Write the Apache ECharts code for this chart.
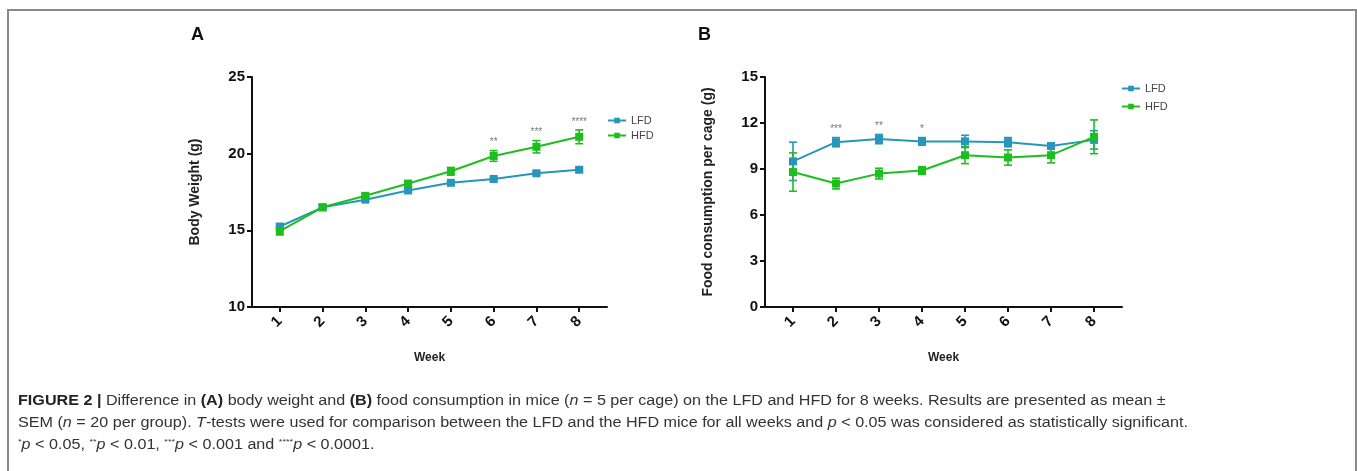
<!DOCTYPE html>
<html>
<head>
<meta charset="utf-8">
<script src="https://cdn.jsdelivr.net/npm/echarts@6/dist/echarts.min.js"></script>
<style>
  html, body { margin:0; padding:0; background:#fff; }
  #wrap { position:relative; width:1357px; height:471px; overflow:hidden; }
  #chart { position:absolute; left:0; top:0; width:1357px; height:471px; }
  #frame { position:absolute; left:7px; top:9px; width:1346px; height:480px;
           border:2px solid #8a8a8a; border-bottom:none; }
  .cap { position:absolute; left:18px; white-space:nowrap; font-family:"Liberation Sans", Arial, sans-serif;
         font-size:14px; color:#333; transform-origin:0 50%; }
  .cap b { color:#222; }
  .cap sup { font-size:8px; vertical-align:5px; }
</style>
</head>
<body>
<div id="wrap">
  <div id="frame"></div>
  <div id="chart"></div>
  <div class="cap" id="cap1" style="top:392px"><b>FIGURE 2 |</b> Difference in <b>(A)</b> body weight and <b>(B)</b> food consumption in mice (<i>n</i> = 5 per cage) on the LFD and HFD for 8 weeks. Results are presented as mean ±</div>
  <div class="cap" id="cap2" style="top:414px">SEM (<i>n</i> = 20 per group). <i>T</i>-tests were used for comparison between the LFD and the HFD mice for all weeks and <i>p</i> &lt; 0.05 was considered as statistically significant.</div>
  <div class="cap" id="cap3" style="top:436px"><sup>*</sup><i>p</i> &lt; 0.05, <sup>**</sup><i>p</i> &lt; 0.01, <sup>***</sup><i>p</i> &lt; 0.001 and <sup>****</sup><i>p</i> &lt; 0.0001.</div>
</div>
<script>
// data (mean and SEM per week)
var weeks = [1, 2, 3, 4, 5, 6, 7, 8];

var lfdWeight    = [15.25, 16.5, 17.0, 17.6, 18.1, 18.35, 18.72, 18.95];
var lfdWeightSem = [0.15, 0.12, 0.12, 0.12, 0.1, 0.1, 0.12, 0.12];
var hfdWeight    = [14.95, 16.5, 17.25, 18.05, 18.85, 19.85, 20.45, 21.1];
var hfdWeightSem = [0.25, 0.15, 0.15, 0.18, 0.25, 0.35, 0.4, 0.45];
var weightStars  = ['', '', '', '', '', '**', '***', '****'];

var lfdFood    = [9.5, 10.75, 10.95, 10.8, 10.8, 10.75, 10.5, 10.9];
var lfdFoodSem = [1.25, 0.3, 0.3, 0.25, 0.4, 0.3, 0.15, 0.6];
var hfdFood    = [8.8, 8.05, 8.7, 8.9, 9.9, 9.75, 9.9, 11.1];
var hfdFoodSem = [1.25, 0.35, 0.35, 0.25, 0.55, 0.5, 0.5, 1.1];
var foodStars  = ['', '***', '**', '*', '', '', '', ''];

var C_LFD = '#2796bb', C_HFD = '#1fbe1f';
var FONT = '"Liberation Sans", Arial, sans-serif';

function pts(vals){ return weeks.map(function(w,i){ return [w, vals[i]]; }); }
function errPts(vals, sem){ return weeks.map(function(w,i){ return [w, vals[i]-sem[i], vals[i]+sem[i]]; }); }
function starPts(vals, sem, stars){
  var out = [];
  weeks.forEach(function(w,i){ if(stars[i]) out.push({value:[w, vals[i]+sem[i]], s:stars[i]}); });
  return out;
}

function errSeries(name, idx, data, color){
  return {
    name:name, type:'custom', xAxisIndex:idx, yAxisIndex:idx, z:3, silent:true,
    data:data,
    renderItem:function(params, api){
      var lo = api.coord([api.value(0), api.value(1)]);
      var hi = api.coord([api.value(0), api.value(2)]);
      var cw = 4;
      var st = {stroke:color, lineWidth:1.6};
      return {type:'group', children:[
        {type:'line', shape:{x1:lo[0], y1:lo[1], x2:hi[0], y2:hi[1]}, style:st},
        {type:'line', shape:{x1:lo[0]-cw, y1:lo[1], x2:lo[0]+cw, y2:lo[1]}, style:st},
        {type:'line', shape:{x1:hi[0]-cw, y1:hi[1], x2:hi[0]+cw, y2:hi[1]}, style:st}
      ]};
    }
  };
}
function lineSeries(name, idx, data, color){
  return {
    name:name, type:'line', xAxisIndex:idx, yAxisIndex:idx, z:4, data:data,
    symbol:'rect', symbolSize:8, showSymbol:true,
    lineStyle:{color:color, width:2}, itemStyle:{color:color}
  };
}
function starSeries(idx, data){
  return {
    name:'stars'+idx, type:'scatter', xAxisIndex:idx, yAxisIndex:idx, data:data,
    symbolSize:0, silent:true,
    label:{show:true, position:'top', distance:3, color:'#555', fontSize:10, fontFamily:FONT,
      formatter:function(p){ return p.data.s; }}
  };
}
function xAx(idx){
  return {
    type:'value', gridIndex:idx, min:0.35, max:8.65,
    name:'Week', nameLocation:'middle', nameGap:45,
    nameTextStyle:{fontFamily:FONT, fontWeight:'bold', fontSize:12, color:'#222'},
    axisLine:{lineStyle:{color:'#111', width:2}},
    axisTick:{customValues:weeks, length:5, lineStyle:{color:'#111', width:2}},
    axisLabel:{customValues:weeks, rotate:45, margin:12, fontFamily:FONT, fontWeight:'bold', fontSize:15, color:'#111'},
    splitLine:{show:false}
  };
}
function yAx(idx, min, max, interval, name){
  return {
    type:'value', gridIndex:idx, min:min, max:max, interval:interval,
    name:name, nameLocation:'middle', nameGap:50,
    nameTextStyle:{fontFamily:FONT, fontWeight:'bold', fontSize:14, color:'#222'},
    axisLine:{show:true, lineStyle:{color:'#111', width:2}},
    axisTick:{show:true, length:5, lineStyle:{color:'#111', width:2}},
    axisLabel:{margin:7, fontFamily:FONT, fontWeight:'bold', fontSize:15, color:'#111'},
    splitLine:{show:false}
  };
}
function legend(left, top, gap){
  return {
    left:left, top:top, orient:'vertical', itemGap:gap, itemWidth:18, itemHeight:7,
    data:['LFD','HFD'], textStyle:{fontFamily:FONT, fontSize:11, color:'#444'}, selectedMode:false
  };
}

var chart = echarts.init(document.getElementById('chart'));
chart.setOption({
  animation:false,
  backgroundColor:'transparent',
  grid:[
    {left:252, right:750, top:77, bottom:164},
    {left:765, right:235, top:77, bottom:164}
  ],
  xAxis:[xAx(0), xAx(1)],
  yAxis:[yAx(0, 10, 25, 5, 'Body Weight (g)'), yAx(1, 0, 15, 3, 'Food consumption per cage (g)')],
  legend:[legend(602, 110, 4), legend(1116, 78, 7)],
  graphic:[
    {type:'text', left:191, top:26, style:{text:'A', font:'bold 18px '+FONT, fill:'#111'}},
    {type:'text', left:698, top:26, style:{text:'B', font:'bold 18px '+FONT, fill:'#111'}}
  ],
  series:[
    errSeries('LFD err A', 0, errPts(lfdWeight, lfdWeightSem), C_LFD),
    errSeries('HFD err A', 0, errPts(hfdWeight, hfdWeightSem), C_HFD),
    lineSeries('LFD', 0, pts(lfdWeight), C_LFD),
    lineSeries('HFD', 0, pts(hfdWeight), C_HFD),
    starSeries(0, starPts(hfdWeight, hfdWeightSem, weightStars)),
    errSeries('LFD err B', 1, errPts(lfdFood, lfdFoodSem), C_LFD),
    errSeries('HFD err B', 1, errPts(hfdFood, hfdFoodSem), C_HFD),
    lineSeries('LFD', 1, pts(lfdFood), C_LFD),
    lineSeries('HFD', 1, pts(hfdFood), C_HFD),
    starSeries(1, starPts(lfdFood, lfdFoodSem, foodStars))
  ]
});

// fit the caption lines to the width they take in the figure
var cap2 = document.getElementById('cap2');
var k = 1170 / cap2.getBoundingClientRect().width;
['cap1','cap2','cap3'].forEach(function(id){
  document.getElementById(id).style.transform = 'scaleX(' + k + ')';
});
</script>
</body>
</html>
